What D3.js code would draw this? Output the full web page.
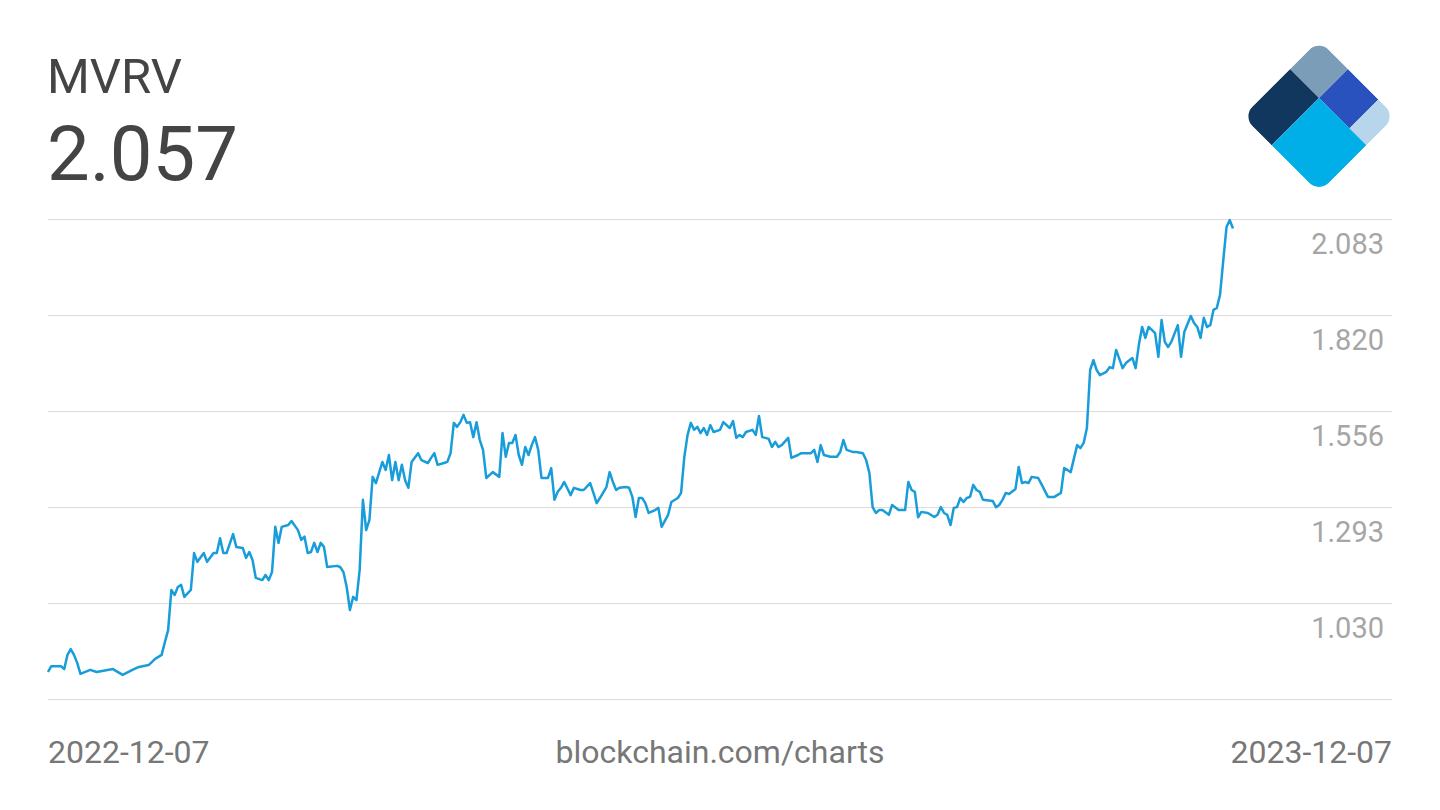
<!DOCTYPE html>
<html>
<head>
<meta charset="utf-8">
<script src="https://cdn.jsdelivr.net/npm/d3@7"></script>
<style>
  body { margin: 0; background: #ffffff; }
  svg { display: block; font-family: Roboto, "Noto Sans", sans-serif; }
</style>
</head>
<body>
<div id="chart"></div>
<script>
"use strict";

const chartTitle = "MVRV";
const latestValue = "2.057";
const startDate = "2022-12-07";
const endDate = "2023-12-07";
const sourceLabel = "blockchain.com/charts";

// Horizontal grid, bottom to top. The lowest line carries no label.
const gridValues = [0.767, 1.030, 1.293, 1.556, 1.820, 2.083];
const gridLabels = ["", "1.030", "1.293", "1.556", "1.820", "2.083"];

// Days since startDate, and the MVRV reading for that day.
const dayOffsets = [
    0, 1, 4, 5, 6, 7, 8, 9, 10, 13, 15, 20, 23, 26, 28, 31, 33, 35, 36, 37,
    38, 39, 40, 41, 42, 44, 45, 46, 48, 49, 51, 52, 53, 54, 55, 57, 58, 60, 61, 62,
    63, 64, 66, 67, 68, 69, 70, 71, 72, 74, 75, 77, 78, 79, 80, 81, 82, 83, 84, 85,
    86, 89, 90, 91, 92, 93, 94, 95, 96, 97, 98, 99, 100, 101, 103, 104, 105, 106, 107, 108,
    109, 110, 111, 112, 114, 115, 117, 118, 119, 120, 122, 123, 124, 125, 126, 127, 128, 129, 130, 131,
    132, 133, 134, 135, 137, 139, 140, 141, 142, 143, 144, 145, 146, 147, 148, 149, 150, 151, 152, 154,
    155, 156, 157, 158, 159, 161, 162, 164, 165, 167, 168, 169, 170, 172, 173, 174, 175, 176, 178, 179,
    180, 181, 182, 183, 184, 185, 187, 188, 189, 191, 192, 194, 195, 196, 197, 198, 199, 200, 201, 202,
    203, 204, 205, 207, 208, 210, 211, 212, 213, 214, 215, 217, 218, 219, 220, 221, 222, 223, 224, 225,
    226, 228, 229, 231, 232, 235, 236, 237, 238, 239, 241, 243, 244, 245, 246, 248, 249, 251, 252, 253,
    254, 255, 256, 257, 259, 260, 262, 264, 265, 266, 267, 268, 269, 271, 273, 274, 275, 276, 277, 278,
    279, 280, 281, 282, 283, 284, 285, 286, 287, 288, 291, 292, 293, 294, 295, 296, 298, 299, 300, 301,
    302, 303, 305, 306, 308, 310, 312, 313, 314, 315, 317, 318, 319, 320, 321, 322, 323, 324, 326, 327,
    328, 329, 331, 332, 334, 335, 336, 337, 338, 339, 340, 341, 342, 343, 344, 345, 346, 348, 349, 350,
    352, 353, 354, 355, 356, 357, 358, 359, 360, 361, 362, 363, 364, 365
];
const mvrvValues = [
    0.841, 0.857, 0.857, 0.849, 0.888, 0.904, 0.888, 0.866, 0.836, 0.847, 0.841, 0.849, 0.833, 0.847, 0.855, 0.860, 0.877, 0.888, 0.923, 0.956,
    1.066, 1.052, 1.074, 1.080, 1.047, 1.066, 1.167, 1.143, 1.167, 1.143, 1.167, 1.167, 1.208, 1.167, 1.167, 1.219, 1.184, 1.181, 1.154, 1.170,
    1.148, 1.099, 1.093, 1.107, 1.093, 1.115, 1.239, 1.195, 1.239, 1.244, 1.255, 1.230, 1.203, 1.212, 1.167, 1.170, 1.195, 1.170, 1.195, 1.184,
    1.129, 1.132, 1.129, 1.115, 1.074, 1.011, 1.047, 1.038, 1.121, 1.313, 1.230, 1.258, 1.376, 1.359, 1.417, 1.395, 1.436, 1.367, 1.417, 1.367,
    1.409, 1.367, 1.346, 1.417, 1.441, 1.422, 1.414, 1.428, 1.441, 1.409, 1.414, 1.417, 1.441, 1.524, 1.513, 1.526, 1.546, 1.524, 1.526, 1.485,
    1.526, 1.477, 1.450, 1.373, 1.389, 1.376, 1.496, 1.431, 1.469, 1.469, 1.491, 1.436, 1.409, 1.458, 1.436, 1.463, 1.485, 1.450, 1.373, 1.373,
    1.400, 1.313, 1.335, 1.346, 1.362, 1.326, 1.346, 1.340, 1.340, 1.359, 1.332, 1.304, 1.318, 1.348, 1.389, 1.362, 1.340, 1.346, 1.348, 1.346,
    1.321, 1.266, 1.318, 1.318, 1.304, 1.277, 1.285, 1.291, 1.239, 1.272, 1.307, 1.318, 1.332, 1.431, 1.491, 1.524, 1.505, 1.513, 1.496, 1.510,
    1.491, 1.518, 1.499, 1.505, 1.526, 1.510, 1.529, 1.483, 1.491, 1.485, 1.499, 1.505, 1.491, 1.543, 1.485, 1.483, 1.480, 1.458, 1.472, 1.458,
    1.463, 1.483, 1.428, 1.436, 1.441, 1.441, 1.450, 1.417, 1.463, 1.436, 1.431, 1.431, 1.444, 1.477, 1.450, 1.444, 1.444, 1.441, 1.422, 1.387,
    1.293, 1.277, 1.285, 1.285, 1.272, 1.299, 1.285, 1.285, 1.362, 1.340, 1.335, 1.265, 1.280, 1.277, 1.266, 1.272, 1.293, 1.277, 1.272, 1.244,
    1.291, 1.293, 1.318, 1.307, 1.318, 1.321, 1.354, 1.340, 1.335, 1.313, 1.310, 1.293, 1.299, 1.313, 1.332, 1.329, 1.343, 1.403, 1.359, 1.362,
    1.359, 1.376, 1.373, 1.356, 1.321, 1.321, 1.332, 1.400, 1.395, 1.389, 1.463, 1.455, 1.469, 1.510, 1.669, 1.696, 1.669, 1.655, 1.664, 1.677,
    1.674, 1.724, 1.674, 1.688, 1.702, 1.674, 1.738, 1.787, 1.757, 1.787, 1.779, 1.770, 1.705, 1.806, 1.746, 1.732, 1.746, 1.792, 1.705, 1.773,
    1.817, 1.798, 1.787, 1.757, 1.812, 1.787, 1.792, 1.834, 1.839, 1.875, 1.969, 2.061, 2.080, 2.057
];

const width = 1440, height = 810;

let svg = d3.select("#chart").append("svg")
    .attr("width", width)
    .attr("height", height);

let parseDay = d3.utcParse("%Y-%m-%d");
let t0 = parseDay(startDate);
let t1 = parseDay(endDate);

let x = d3.scaleUtc().domain([t0, t1]).range([48, 1233]);
let y = d3.scaleLinear().domain(d3.extent(gridValues)).range([699, 219]);

let points = dayOffsets.map((d, i) => ({date: d3.utcDay.offset(t0, d), value: mvrvValues[i]}));

// Header: metric name and latest value.
svg.append("text")
    .attr("x", 47)
    .attr("y", 93)
    .style("font-size", "49px")
    .style("fill", "#444444")
    .text(chartTitle);

svg.append("text")
    .attr("x", 47)
    .attr("y", 180)
    .style("font-size", "76px")
    .style("fill", "#444444")
    .text(latestValue);

// Logo, a rotated rounded square cut in five pieces.
let logo = svg.append("g")
    .attr("transform", "translate(1319,40) rotate(45)");
logo.append("clipPath")
    .attr("id", "logo_clip")
    .append("rect")
    .attr("width", 108)
    .attr("height", 108)
    .attr("rx", 14);
let logoG = logo.append("g").attr("clip-path", "url(#logo_clip)");
[
    [0, 0, 41, 41, "#7b9db7"],
    [0, 41, 41, 67, "#12375f"],
    [41, 0, 43, 41, "#2a52be"],
    [84, 0, 24, 41, "#b7d6ec"],
    [41, 41, 67, 67, "#00aee8"]
].forEach(function(p) {
    logoG.append("rect")
        .attr("x", p[0]).attr("y", p[1])
        .attr("width", p[2]).attr("height", p[3])
        .style("fill", p[4]);
});

// Grid lines and their labels.
let grid = svg.append("g").attr("class", "grid");
grid.selectAll("line").data(gridValues).enter().append("line")
    .attr("x1", 48)
    .attr("x2", 1392)
    .attr("y1", d => Math.round(y(d)) + 0.5)
    .attr("y2", d => Math.round(y(d)) + 0.5)
    .style("stroke", "#dcdcdc")
    .style("stroke-width", "1.2px");

grid.selectAll("text").data(gridValues).enter().append("text")
    .attr("x", 1384)
    .attr("y", d => y(d) + 35)
    .style("text-anchor", "end")
    .style("font-size", "29px")
    .style("fill", "#a6a6a6")
    .text((d, i) => gridLabels[i]);

// The series.
let line = d3.line()
    .x(d => x(d.date))
    .y(d => y(d.value));

svg.append("path")
    .datum(points)
    .attr("d", line)
    .style("fill", "none")
    .style("stroke", "#189dda")
    .style("stroke-width", "2.5px")
    .style("stroke-linejoin", "round");

// Footer: date range and source.
let footer = [
    {text: startDate, x: 48, anchor: "start"},
    {text: sourceLabel, x: 720, anchor: "middle"},
    {text: endDate, x: 1392, anchor: "end"}
];
svg.selectAll(".footer_label").data(footer).enter().append("text")
    .attr("class", "footer_label")
    .attr("x", d => d.x)
    .attr("y", 763)
    .style("text-anchor", d => d.anchor)
    .style("font-size", "32px")
    .style("fill", "#777777")
    .text(d => d.text);
</script>
</body>
</html>
